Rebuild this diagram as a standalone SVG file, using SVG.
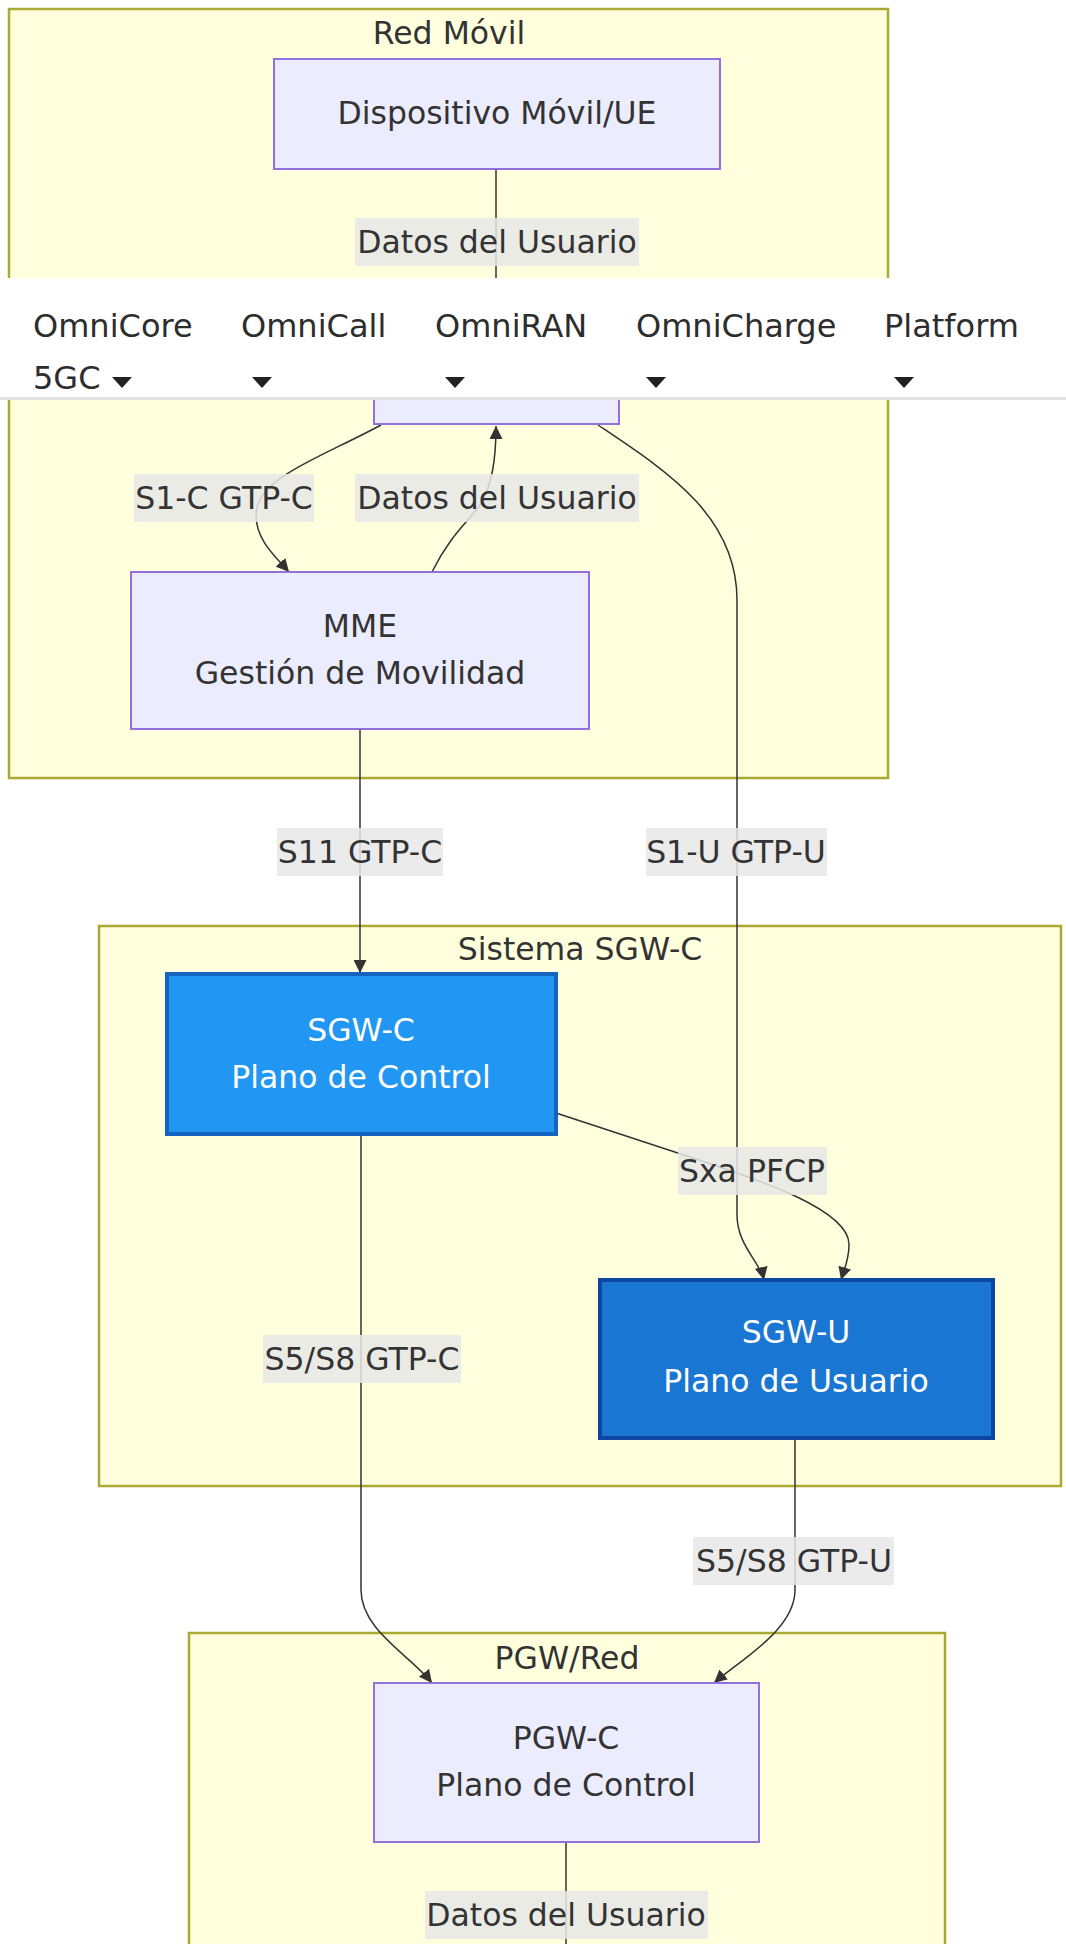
<svg xmlns="http://www.w3.org/2000/svg" width="1066" height="1944" viewBox="0 0 1066 1944">
<defs>
<style>
.cluster{fill:#ffffde;stroke:#aaaa33;stroke-width:2.5}
.node{fill:#ececff;stroke:#9370db;stroke-width:2}
.t{font-family:"DejaVu Sans",sans-serif;font-size:31.5px;fill:#333333;text-anchor:middle;dominant-baseline:central}
.w{fill:#ffffff}
.edge{fill:none;stroke:#333333;stroke-width:1.5;marker-end:url(#arrow)}
.line{fill:none;stroke:#333333;stroke-width:1.5}
.lbl{fill:#e8e8e8;fill-opacity:0.85}
.nav{font-family:"DejaVu Sans",sans-serif;font-size:32px;fill:#2d2d2d}
.caret{fill:#222222}
</style>
<marker id="arrow" viewBox="0 0 10 10" refX="10" refY="5" markerWidth="13" markerHeight="13" markerUnits="userSpaceOnUse" orient="auto">
<path d="M0,0 L10,5 L0,10 z" fill="#333333"/>
</marker>
</defs>
<rect width="1066" height="1944" fill="#ffffff"/>
<g id="cluster-red-movil">
<rect class="cluster" x="9" y="9" width="879" height="769"/>
<text class="t" x="449" y="33">Red Móvil</text>
</g>
<g id="cluster-sgwc">
<rect class="cluster" x="99" y="926" width="962" height="560"/>
<text class="t" x="580" y="949">Sistema SGW-C</text>
</g>
<g id="cluster-pgw">
<rect class="cluster" x="189" y="1633" width="756" height="330"/>
<text class="t" x="567" y="1658">PGW/Red</text>
</g>
<g id="connectors">
<path class="edge" d="M496,169 L496,313"/>
<path class="edge" d="M381,425 C320,458 256,478 256,515 C256,540 275,556 289,572"/>
<path class="edge" d="M432,572 C450,535 470,520 480,505 C492,485 496,460 496,426"/>
<path class="edge" d="M598,425 C665,470 737,515 737,600 L737,1215 C737,1245 760,1262 764,1280"/>
<path class="edge" d="M360,729 L360,973"/>
<path class="edge" d="M556,1113 L690,1157 C760,1180 850,1210 849,1245 C849,1260 844,1270 841,1280"/>
<path class="edge" d="M361,1134 L361,1590 C361,1630 410,1655 432,1683"/>
<path class="edge" d="M795,1438 L795,1590 C795,1630 740,1660 714,1683"/>
<path class="line" d="M566,1842 L566,1944"/>
<g id="edge-labels">
<rect class="lbl" x="355" y="218" width="284" height="48"/>
<text class="t" x="497" y="242">Datos del Usuario</text>
<rect class="lbl" x="134" y="474" width="180" height="48"/>
<text class="t" x="224" y="498">S1-C GTP-C</text>
<rect class="lbl" x="355" y="474" width="284" height="48"/>
<text class="t" x="497" y="498">Datos del Usuario</text>
<rect class="lbl" x="277" y="828" width="166" height="48"/>
<text class="t" x="360" y="852">S11 GTP-C</text>
<rect class="lbl" x="646" y="828" width="181" height="48"/>
<text class="t" x="736" y="852">S1-U GTP-U</text>
<rect class="lbl" x="678" y="1147" width="149" height="48"/>
<text class="t" x="752" y="1171">Sxa PFCP</text>
<rect class="lbl" x="263" y="1335" width="198" height="48"/>
<text class="t" x="362" y="1359">S5/S8 GTP-C</text>
<rect class="lbl" x="693" y="1537" width="201" height="48"/>
<text class="t" x="794" y="1561">S5/S8 GTP-U</text>
<rect class="lbl" x="425" y="1891" width="283" height="48"/>
<text class="t" x="566" y="1915">Datos del Usuario</text>
</g>
</g>
<g id="node-ue">
<rect class="node" x="274" y="59" width="446" height="110"/>
<text class="t" x="497" y="113">Dispositivo Móvil/UE</text>
</g>
<g id="node-enb">
<rect class="node" x="374" y="314" width="245" height="110"/>
</g>
<g id="node-mme">
<rect class="node" x="131" y="572" width="458" height="157"/>
<text class="t" x="360" y="626">MME</text>
<text class="t" x="360" y="673">Gestión de Movilidad</text>
</g>
<g id="node-sgwc">
<rect x="167" y="974" width="389" height="160" fill="#2196f3" stroke="#1565c0" stroke-width="4"/>
<text class="t w" x="361" y="1030">SGW-C</text>
<text class="t w" x="361" y="1077">Plano de Control</text>
</g>
<g id="node-sgwu">
<rect x="600" y="1280" width="393" height="158" fill="#1976d2" stroke="#0d47a1" stroke-width="4"/>
<text class="t w" x="796" y="1332">SGW-U</text>
<text class="t w" x="796" y="1381">Plano de Usuario</text>
</g>
<g id="node-pgwc">
<rect class="node" x="374" y="1683" width="385" height="159"/>
<text class="t" x="566" y="1738">PGW-C</text>
<text class="t" x="566" y="1785">Plano de Control</text>
</g>
<g id="navbar">
<rect x="0" y="397" width="1066" height="3" fill="#e2e2e2"/>
<rect x="0" y="278" width="1066" height="119" fill="#ffffff"/>
<text class="nav" x="33" y="337">OmniCore</text>
<text class="nav" x="33" y="389">5GC</text>
<text class="nav" x="241" y="337">OmniCall</text>
<text class="nav" x="435" y="337">OmniRAN</text>
<text class="nav" x="636" y="337">OmniCharge</text>
<text class="nav" x="884" y="337">Platform</text>
<polygon class="caret" points="112,377 132,377 122,388"/>
<polygon class="caret" points="252,377 272,377 262,388"/>
<polygon class="caret" points="445,377 465,377 455,388"/>
<polygon class="caret" points="646,377 666,377 656,388"/>
<polygon class="caret" points="894,377 914,377 904,388"/>
</g>
</svg>
